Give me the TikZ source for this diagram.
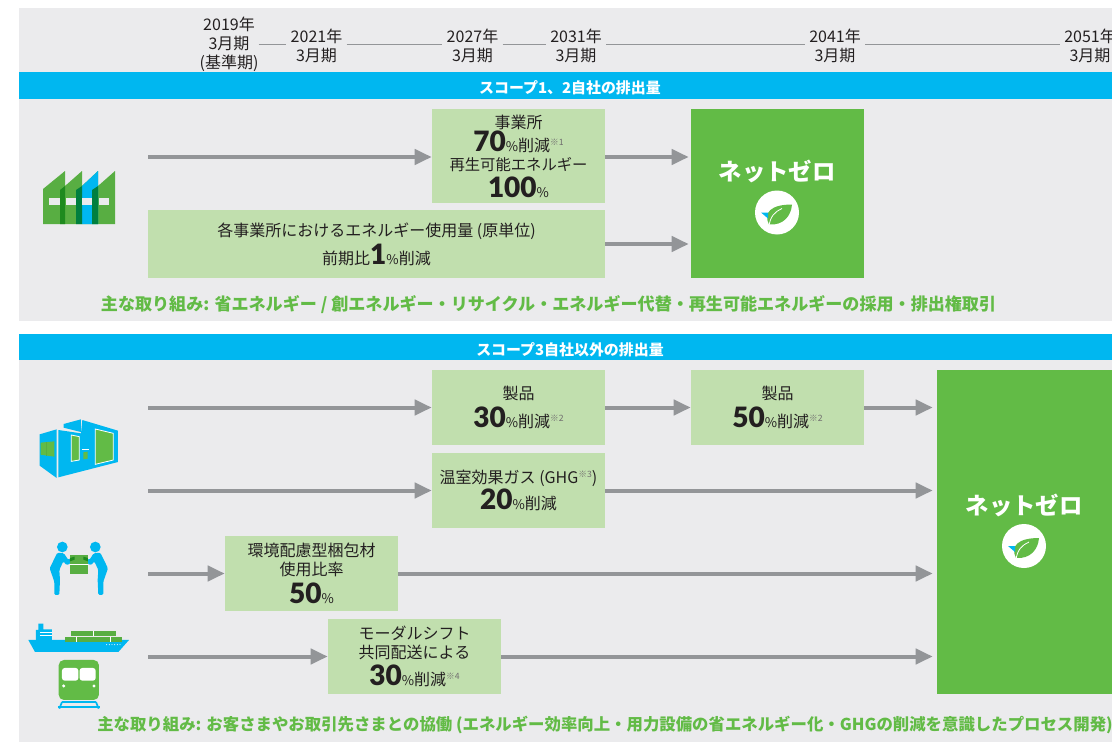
\documentclass[tikz,border=0pt]{standalone}
\usepackage{fontspec}
\usepackage{tikz}
\usetikzlibrary{arrows.meta,positioning,calc}
\setmainfont{Noto Sans CJK JP}
\newfontfamily\numfont[BoldFont={Lato Black}]{Lato}
\pgfdeclarelayer{background}
\pgfsetlayers{background,main}
\definecolor{panelgrey}{HTML}{EBEBED}
\definecolor{bandblue}{HTML}{00B7F0}
\definecolor{paleleaf}{HTML}{C1DFAE}
\definecolor{leafgreen}{HTML}{62BB46}
\definecolor{factgreen}{HTML}{58AE42}
\definecolor{stripgreen}{HTML}{1E8A1E}
\definecolor{stripteal}{HTML}{007F3F}
\definecolor{arrowgrey}{HTML}{939598}
\definecolor{inkdark}{HTML}{231F20}
\tikzstyle{target}=[fill=paleleaf, text=inkdark, align=center, minimum width=129.75pt, minimum height=56.25pt,
inner sep=0pt, font=\fontsize{12}{14}\selectfont]
\tikzstyle{targetTall} = [target, minimum height=70.5pt]
\tikzstyle{targetWide} = [target, minimum width=342.75pt, minimum height=51pt]
\tikzstyle{goal} = [fill=leafgreen, text=white, minimum width=129.75pt, inner sep=0pt]
\tikzstyle{band} = [fill=bandblue, text=white, minimum width=820.5pt, minimum height=20pt, inner sep=0pt,
text height=12pt, text depth=0pt, font=\fontsize{11.2}{12}\selectfont\bfseries]
\tikzstyle{year} = [text=inkdark, align=center, inner ysep=0pt, font=\fontsize{12}{14.2}\selectfont]
\tikzstyle{tick} = [draw, color=arrowgrey, line width=0.8pt]
\tikzstyle{line} = [draw, color=arrowgrey, line width=3pt, -{Triangle[length=12.75pt,width=11.25pt]}]
\tikzstyle{action} = [text=leafgreen, inner sep=0pt, font=\fontsize{12.8}{14}\selectfont\bfseries]
\tikzstyle{goaltext} = [text=white, inner sep=0pt, font=\fontsize{17.5}{20}\selectfont\bfseries]
\newcommand{\target}[3]{node (p#1)[#2]{#3}}
\newcommand{\bignum}[1]{{\fontsize{21}{21}\selectfont\numfont\bfseries #1}}
\newcommand{\pct}{{\fontsize{10}{10}\selectfont\%}}
\newcommand{\fnote}[1]{{\fontsize{6.5}{6.5}\selectfont\raisebox{0.7em}{\color{inkdark!65}※#1}}}
\newcommand{\yearline}[2]{\path [tick] ([yshift=1.1pt]#2.west -| #1.east) -- ([yshift=1.1pt]#2.west);}
\newcommand{\leaficon}[1]{%
	\begin{scope}[shift={(#1)}]
		\fill[white] (0,0) circle (22);
		\fill[leafgreen] (-8,12) .. controls (-14,0) and (-6,-8) .. (15,-8) .. controls (14,4) and (6,13) .. (-8,12);
		\draw[white,line width=0.6pt] (-8,14) .. controls (-7,4) and (-2,-1) .. (5,-4);
		\fill[bandblue] (-16,0) -- (-9,0) -- (-9,6) -- cycle;
	\end{scope}}

\begin{document}
\begin{tikzpicture}[x=0.75pt,y=-0.75pt]
	\useasboundingbox (0,0) rectangle (1112,742);

	% Years
	\node (y2019)[year,inner xsep=0pt] at (229,44) {2019年\\3月期\\(基準期)};
	\node (y2021)[year,inner xsep=3pt] at (316.5,46) {2021年\\3月期};
	\node (y2027)[year,inner xsep=3pt] at (472.5,46) {2027年\\3月期};
	\node (y2031)[year,inner xsep=3pt] at (576,46) {2031年\\3月期};
	\node (y2041)[year,inner xsep=3pt] at (835,46) {2041年\\3月期};
	\node (y2051)[year,inner xsep=3pt] at (1090,46) {2051年\\3月期};
	\yearline{y2019}{y2021}
	\yearline{y2021}{y2027}
	\yearline{y2027}{y2031}
	\yearline{y2031}{y2041}
	\yearline{y2041}{y2051}

	% Bands
	\node (b1)[band] at (565.5,85.5) {\hspace{6.75pt}スコープ1、2自社の排出量};
	\node (b2)[band] at (565.5,347) {\hspace{6.75pt}スコープ3自社以外の排出量};

	% Scope 1,2
	\path (518.5,156) \target{1}{targetTall}{事業所\\\bignum{70}\pct 削減\fnote{1}\\[0.5pt]{\fontsize{11.5}{14}\selectfont 再生可能エネルギー}\\[2.5pt]\bignum{100}\pct};
	\path (376.5,244) \target{2}{targetWide}{各事業所におけるエネルギー使用量 (原単位)\\[2.5pt]前期比\bignum{1}\pct 削減};
	\node (g1)[goal,minimum height=126.75pt] at (777.5,193.5) {};
	\node (g1t)[goaltext] at (777,171) {ネットゼロ};
	\leaficon{777,212.5}
	\node (m1)[action] at (548.5,305) {主な取り組み: 省エネルギー / 創エネルギー・リサイクル・エネルギー代替・再生可能エネルギーの採用・排出権取引};

	% Scope 3
	\path (518.5,407.5) \target{3}{target}{製品\\[3.5pt]\bignum{30}\pct 削減\fnote{2}};
	\path (777.5,407.5) \target{4}{target}{製品\\[3.5pt]\bignum{50}\pct 削減\fnote{2}};
	\path (518.5,490.5) \target{5}{target}{温室効果ガス (GHG\fnote{3})\\[1pt]\bignum{20}\pct 削減};
	\path (311.5,573.5) \target{6}{target}{環境配慮型梱包材\\使用比率\\[3.75pt]\bignum{50}\pct};
	\path (414.5,656.5) \target{7}{target}{モーダルシフト\\共同配送による\\[3.25pt]\bignum{30}\pct 削減\fnote{4}};
	\node (g2)[goal,minimum width=131.25pt,minimum height=243pt] at (1024.5,532) {};
	\node (g2t)[goaltext] at (1024,505) {ネットゼロ};
	\leaficon{1024,546}
	\node (m2)[action,font=\fontsize{12.3}{14}\selectfont\bfseries] at (605,725) {主な取り組み: お客さまやお取引先さまとの協働 (エネルギー効率向上・用力設備の省エネルギー化・GHGの削減を意識したプロセス開発)};

	% Free ends of arrows
	\coordinate (s1) at (148,157);
	\coordinate (s3) at (148,407.5);
	\coordinate (s5) at (148,490.5);
	\coordinate (s6) at (148,573.5);
	\coordinate (s7) at (148,656.5);

	% Arrows
	\path [line] (s1) -- (s1 -| p1.west);
	\path [line,shorten >=1.5pt] (s1 -| p1.east) -- (s1 -| g1.west);
	\path [line,shorten >=1.5pt] (p2.east) -- (p2.east -| g1.west);
	\path [line] (s3) -- (p3.west);
	\path [line] (p3.east) -- (p4.west);
	\path [line,shorten >=3pt] (p4.east) -- (p4.east -| g2.west);
	\path [line] (s5) -- (p5.west);
	\path [line,shorten >=3pt] (p5.east) -- (p5.east -| g2.west);
	\path [line] (s6) -- (p6.west);
	\path [line,shorten >=3pt] (p6.east) -- (p6.east -| g2.west);
	\path [line] (s7) -- (p7.west);
	\path [line,shorten >=3pt] (p7.east) -- (p7.east -| g2.west);

	% Factory
	\fill[factgreen] (43,224) -- (43,189) -- (65,171) -- (65,186) -- (82,171) -- (82,186) -- (98,171) -- (98,186) -- (115,171) -- (115,224) -- cycle;
	\fill[bandblue] (82,186) -- (98,171) -- (98,224) -- (82,224) -- cycle;
	\fill[stripgreen] (60,190) -- (65,186) -- (65,224) -- (60,224) -- cycle;
	\fill[stripteal] (76,190) -- (82,186) -- (82,224) -- (76,224) -- cycle;
	\fill[stripteal] (92,190) -- (98,186) -- (98,224) -- (92,224) -- cycle;
	\foreach \xa/\xb in {49/60,66/76,82/92,99/109}
		\fill[panelgrey] (\xa,198) rectangle (\xb,205);

	% Building
	\begin{scope}[shift={(0,400)},scale=0.3333]
		\fill[bandblue] (119,103) -- (170,88) -- (170,234) -- (119,197) -- cycle;
		\fill[bandblue] (191,72) -- (243,58) -- (243,96) -- (191,83) -- cycle;
		\fill[bandblue] (175,90) -- (243,100) -- (247,60) -- (354,92) -- (354,186) -- (175,232) -- cycle;
		\fill[leafgreen,draw=white,line width=0.6pt] (214,105) -- (238,110) -- (238,180) -- (214,184) -- cycle;
		\fill[leafgreen,draw=white,line width=0.6pt] (286,87) -- (340,100) -- (340,180) -- (286,193) -- cycle;
		\fill[leafgreen] (250,157) -- (263,155) -- (263,176) -- (250,178) -- cycle;
		\fill[leafgreen] (122,128) -- (163,124) -- (163,170) -- (122,164) -- cycle;
		\draw[factgreen,line width=0.4pt] (139,126) -- (139,167);
		\draw[white,line width=0.8pt] (246,149) -- (268,149);

		% Two people and a box
		\foreach \mir in {1,-1} {
			\begin{scope}[shift={(236.5,0)},xscale=\mir]
				\fill[bandblue] (-49.5,441) circle (16);
				\fill[bandblue,rounded corners=1pt] (-64.5,458) -- (-44.5,460) -- (-31.5,480) -- (-12.5,470) -- (-12.5,482) -- (-36.5,496) -- (-46.5,484) -- (-58.5,510) -- (-56.5,540) -- (-58.5,585) -- (-73.5,585) -- (-73.5,545) -- (-87.5,505) -- cycle;
			\end{scope}
		}
		\fill[factgreen] (210,465) rectangle (264,522);
		\draw[white,line width=0.5pt] (210,493) -- (264,493);
		\fill[stripgreen] (210,474) -- (224,470) -- (224,479) -- (210,484) -- cycle;
		\fill[stripgreen] (264,474) -- (250,470) -- (250,479) -- (264,484) -- cycle;

		% Ship
		\fill[bandblue] (85,720) -- (387,720) -- (355,756) -- (105,756) -- cycle;
		\fill[bandblue] (115,671) -- (130,671) -- (130,688) -- (156,688) -- (156,720) -- (108,720) -- (108,690) -- (115,690) -- cycle;
		\draw[white,line width=0.5pt] (120,696) -- (156,696) (120,706) -- (156,706);
		\fill[factgreen] (213,693) rectangle (348,708);
		\fill[factgreen] (195,711) rectangle (366,725);
		\draw[white,line width=0.5pt] (281,693) -- (281,708) (229,711) -- (229,725) (331,711) -- (331,725);
		\foreach \xp in {320,328,336,344,352,360}
			\fill[white] (\xp,734) circle (1.6);

		% Train
		\fill[leafgreen,rounded corners=4pt] (176,780) rectangle (297,900);
		\fill[white,rounded corners=2pt] (186,804) rectangle (235,842);
		\fill[white,rounded corners=2pt] (239,804) rectangle (287,842);
		\fill[white] (191,858) circle (5);
		\fill[white] (282,858) circle (5);
		\draw[bandblue,line width=1.3pt] (186,906) -- (288,906) (174,920) -- (300,920);
		\draw[bandblue,line width=1.3pt] (186,906) -- (178,926) (288,906) -- (296,926);
	\end{scope}

	% Panels
	\begin{pgfonlayer}{background}
		\fill[panelgrey] (19,8) rectangle (1112,321);
		\fill[panelgrey] (19,334) rectangle (1112,742);
	\end{pgfonlayer}
\end{tikzpicture}
\end{document}
